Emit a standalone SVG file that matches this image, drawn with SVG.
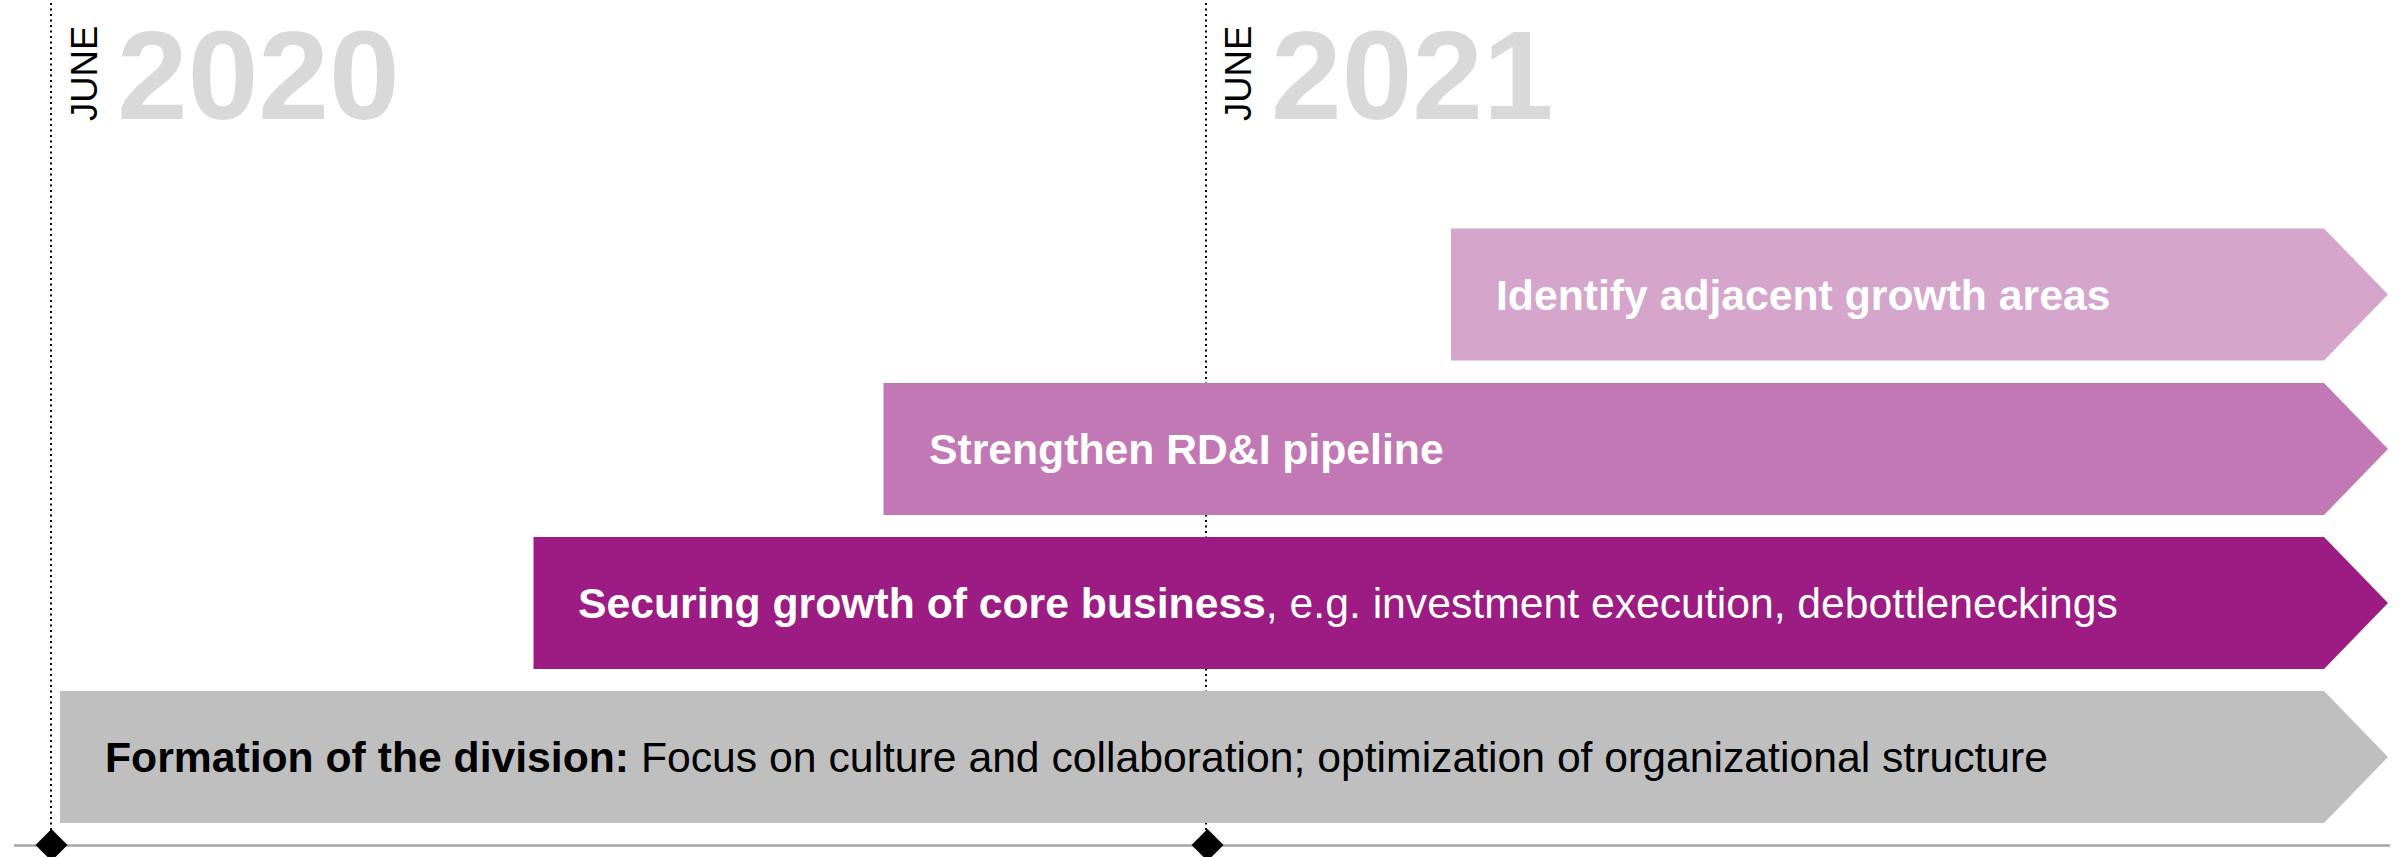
<svg xmlns="http://www.w3.org/2000/svg" width="2405" height="857" viewBox="0 0 2405 857">
<style>
text{font-family:"Liberation Sans",Arial,sans-serif}
.year{font-size:127px;font-weight:bold;fill:#d9d9d9}
.month{font-size:36.5px;fill:#000}
.lbl{font-size:42.7px}
.b{font-weight:bold}
.dot{stroke:#000;stroke-width:2;stroke-dasharray:2 3.5;fill:none}
</style>
<g id="connectors">
<line class="dot" x1="51" y1="3" x2="51" y2="832"/>
<line class="dot" x1="1206" y1="3" x2="1206" y2="832"/>
<line x1="14" y1="845.5" x2="2390" y2="845.5" stroke="#a6a6a6" stroke-width="2.5"/>
</g>
<g id="axis-labels">
<text class="month" transform="translate(97,121) rotate(-90)">JUNE</text>
<text class="year" x="117" y="119">2020</text>
<text class="month" transform="translate(1251,121) rotate(-90)">JUNE</text>
<text class="year" x="1271" y="119">2021</text>
</g>
<g id="milestone-2020"><polygon points="51.5,829 67.5,845 51.5,861 35.5,845" fill="#000"/></g>
<g id="milestone-2021"><polygon points="1207.5,829 1223.5,845 1207.5,861 1191.5,845" fill="#000"/></g>
<g id="bar-adjacent">
<polygon points="1451,228.5 2324,228.5 2388,294.5 2324,360.5 1451,360.5" fill="#d5a5cc"/>
<text class="lbl b" x="1496" y="310" fill="#fff">Identify adjacent growth areas</text>
</g>
<g id="bar-rdi">
<polygon points="883.5,383 2324,383 2388,449 2324,515 883.5,515" fill="#c278b5"/>
<text class="lbl b" x="929" y="464" fill="#fff">Strengthen RD&amp;I pipeline</text>
</g>
<g id="bar-core">
<polygon points="533.5,537 2324,537 2388,603 2324,669 533.5,669" fill="#9c1c84"/>
<text class="lbl" x="578" y="618" fill="#fff"><tspan class="b">Securing growth of core business</tspan>, e.g. investment execution, debottleneckings</text>
</g>
<g id="bar-formation">
<polygon points="60,691 2324,691 2388,757 2324,823 60,823" fill="#bfbfbf"/>
<text class="lbl" x="105" y="772" fill="#000"><tspan class="b">Formation of the division:</tspan> Focus on culture and collaboration; optimization of organizational structure</text>
</g>
</svg>
